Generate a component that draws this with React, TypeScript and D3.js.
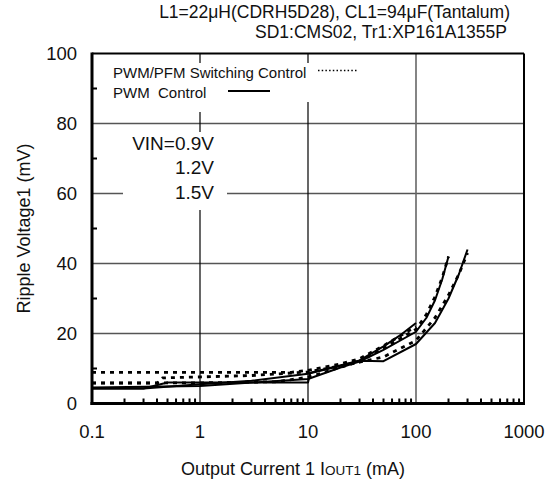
import React from "react";
import * as d3 from "d3";

// ---------- data ----------
const X_TICKS = [0.1, 1, 10, 100, 1000];
const X_TICK_LABELS = ["0.1", "1", "10", "100", "1000"];
const Y_TICKS = [0, 20, 40, 60, 80, 100];
const Y_MINOR = [10, 30, 50, 70, 90];

// PWM control (solid)
const pwmCurrentA = [0.1, 0.3, 1, 3, 10, 20, 30, 50, 70, 100];
const pwmRippleA = [4.3, 4.3, 5.5, 6.5, 8.5, 10.8, 12.3, 16.3, 19.3, 23.0];
const pwmCurrentB = [0.1, 1, 10, 20, 30, 50, 100, 125, 150, 175, 200];
const pwmRippleB = [4.6, 5.0, 7.0, 10.3, 12.0, 15.3, 20.5, 24.5, 29.5, 35.5, 42.0];
const pwmCurrentC = [0.1, 0.3, 0.5, 10, 10.5, 30, 50, 100, 150, 200, 250, 300];
const pwmRippleC = [4.3, 4.3, 6.0, 6.0, 8.8, 12.2, 12.1, 17.0, 23.0, 30.0, 37.0, 44.0];

// PWM/PFM switching control (dotted)
const pfmCurrentA = [0.1, 1, 7, 10, 20, 30, 50, 100];
const pfmRippleA = [8.9, 8.9, 8.9, 9.5, 11.3, 12.8, 16.5, 22.0];
const pfmCurrentB = [0.1, 1, 5, 10, 30, 50, 100, 125, 150, 175, 200];
const pfmRippleB = [5.9, 5.9, 6.2, 7.5, 12.0, 15.8, 21.2, 25.5, 30.5, 36.0, 42.0];
const pfmCurrentC = [0.1, 0.4, 0.45, 3, 10, 30, 50, 100, 150, 200, 250, 300];
const pfmRippleC = [5.8, 5.8, 7.3, 8.0, 9.0, 11.8, 13.3, 18.0, 24.5, 31.0, 37.0, 43.0];

const TITLE_LINES = [
  "L1=22\u03bcH(CDRH5D28), CL1=94\u03bcF(Tantalum)",
  "SD1:CMS02, Tr1:XP161A1355P",
];
const VIN_LABELS = ["VIN=0.9V", "1.2V", "1.5V"];
const LEGEND_LABELS = ["PWM/PFM Switching Control", "PWM  Control"];

const FONT = "'Liberation Sans', Arial, Helvetica, sans-serif";

const zip = (xs: number[], ys: number[]) => xs.map((x, i) => [x, ys[i]] as [number, number]);

export default function App() {
  const W = 556;
  const H = 484;
  const left = 92;
  const right = 524;
  const top = 53.5;
  const bottom = 403.5;

  const x = d3.scaleLog().domain([0.1, 1000]).range([left, right]);
  const y = d3.scaleLinear().domain([0, 100]).range([bottom, top]);

  const line = d3
    .line<[number, number]>()
    .x((d) => x(d[0]))
    .y((d) => y(d[1]))
    .curve(d3.curveLinear);

  const solid = [
    zip(pwmCurrentA, pwmRippleA),
    zip(pwmCurrentB, pwmRippleB),
    zip(pwmCurrentC, pwmRippleC),
  ];
  const dotted = [
    zip(pfmCurrentA, pfmRippleA),
    zip(pfmCurrentB, pfmRippleB),
    zip(pfmCurrentC, pfmRippleC),
  ];

  const minorX: number[] = [];
  for (let dec = 0.1; dec < 1000; dec *= 10) {
    for (let k = 2; k <= 9; k++) minorX.push(+(dec * k).toPrecision(3));
  }

  return (
    <svg
      width={W}
      height={H}
      style={{ position: "absolute", left: 0, top: 0, background: "#fff" }}
      fontFamily={FONT}
    >
      <rect x={0} y={0} width={W} height={H} fill="#fff" />

      {/* header */}
      <text x={510} y={18} fontSize={17.5} textAnchor="end" fill="#111">
        {TITLE_LINES[0]}
      </text>
      <text x={507} y={38} fontSize={17.5} textAnchor="end" fill="#111">
        {TITLE_LINES[1]}
      </text>

      {/* grid */}
      {Y_TICKS.filter((t) => t > 0 && t < 100).map((t) => (
        <line key={"gy" + t} x1={left} x2={right} y1={y(t)} y2={y(t)} stroke="#555" strokeWidth={1.3} />
      ))}
      {X_TICKS.filter((t) => t > 0.1 && t < 1000).map((t) => (
        <line
          key={"gx" + t}
          x1={x(t)}
          x2={x(t)}
          y1={top}
          y2={bottom}
          stroke={t === 100 ? "#666" : "#000"}
          strokeWidth={t === 100 ? 1.6 : 1.2}
        />
      ))}

      {/* legend background */}
      <rect x={106} y={63} width={258} height={39} fill="#fff" />
      <rect x={106} y={84} width={170} height={28} fill="#fff" />
      {/* VIN label background */}
      <rect x={123} y={132} width={104} height={78} fill="#fff" />

      {/* minor ticks */}
      {minorX.map((t, i) => (
        <line key={"mx" + i} x1={x(t)} x2={x(t)} y1={bottom} y2={bottom - 5} stroke="#000" strokeWidth={2} />
      ))}
      {Y_MINOR.map((t) => (
        <line key={"my" + t} x1={left} x2={left + 5} y1={y(t)} y2={y(t)} stroke="#000" strokeWidth={2} />
      ))}

      {/* curves */}
      {solid.map((d, i) => (
        <path key={"s" + i} d={line(d) || ""} fill="none" stroke="#000" strokeWidth={2} strokeLinejoin="round" />
      ))}
      {dotted.map((d, i) => (
        <path
          key={"d" + i}
          d={line(d) || ""}
          fill="none"
          stroke="#000"
          strokeWidth={2.8}
          strokeDasharray="4 5"
        />
      ))}

      {/* frame */}
      <line x1={left} x2={right} y1={top} y2={top} stroke="#000" strokeWidth={2} />
      <line x1={right} x2={right} y1={top} y2={bottom} stroke="#000" strokeWidth={2} />
      <line x1={left} x2={left} y1={top - 1} y2={bottom + 1.5} stroke="#000" strokeWidth={3} />
      <line x1={left - 1.5} x2={right + 1} y1={bottom} y2={bottom} stroke="#000" strokeWidth={3} />

      {/* tick labels */}
      {Y_TICKS.map((t) => (
        <text key={"ly" + t} x={77} y={y(t) + 6.5} fontSize={18.5} textAnchor="end" fill="#111">
          {t}
        </text>
      ))}
      {X_TICKS.map((t, i) => (
        <text key={"lx" + t} x={x(t)} y={438} fontSize={18.5} textAnchor="middle" fill="#111">
          {X_TICK_LABELS[i]}
        </text>
      ))}

      {/* axis titles */}
      <text x={293} y={475} fontSize={18} textAnchor="middle" fill="#111">
        Output Current 1 I<tspan fontSize={13.5}>OUT1</tspan> (mA)
      </text>
      <text
        transform={`translate(29.5, ${(top + bottom) / 2}) rotate(-90)`}
        fontSize={18}
        textAnchor="middle"
        fill="#111"
      >
        Ripple Voltage1 (mV)
      </text>

      {/* legend */}
      <text x={113} y={78} fontSize={15} fill="#111">
        {LEGEND_LABELS[0]}
      </text>
      <line x1={318} x2={357} y1={70.5} y2={70.5} stroke="#000" strokeWidth={1.6} strokeDasharray="1.5 2.2" />
      <text x={113} y={98.3} fontSize={15} fill="#111" style={{ whiteSpace: "pre" }}>
        {LEGEND_LABELS[1]}
      </text>
      <line x1={228} x2={270} y1={91} y2={91} stroke="#000" strokeWidth={2.2} />

      {/* VIN labels */}
      <text x={214} y={150} fontSize={19} textAnchor="end" fill="#111">
        {VIN_LABELS[0]}
      </text>
      <text x={214} y={173.5} fontSize={19} textAnchor="end" fill="#111">
        {VIN_LABELS[1]}
      </text>
      <text x={214} y={198.5} fontSize={19} textAnchor="end" fill="#111">
        {VIN_LABELS[2]}
      </text>
    </svg>
  );
}
